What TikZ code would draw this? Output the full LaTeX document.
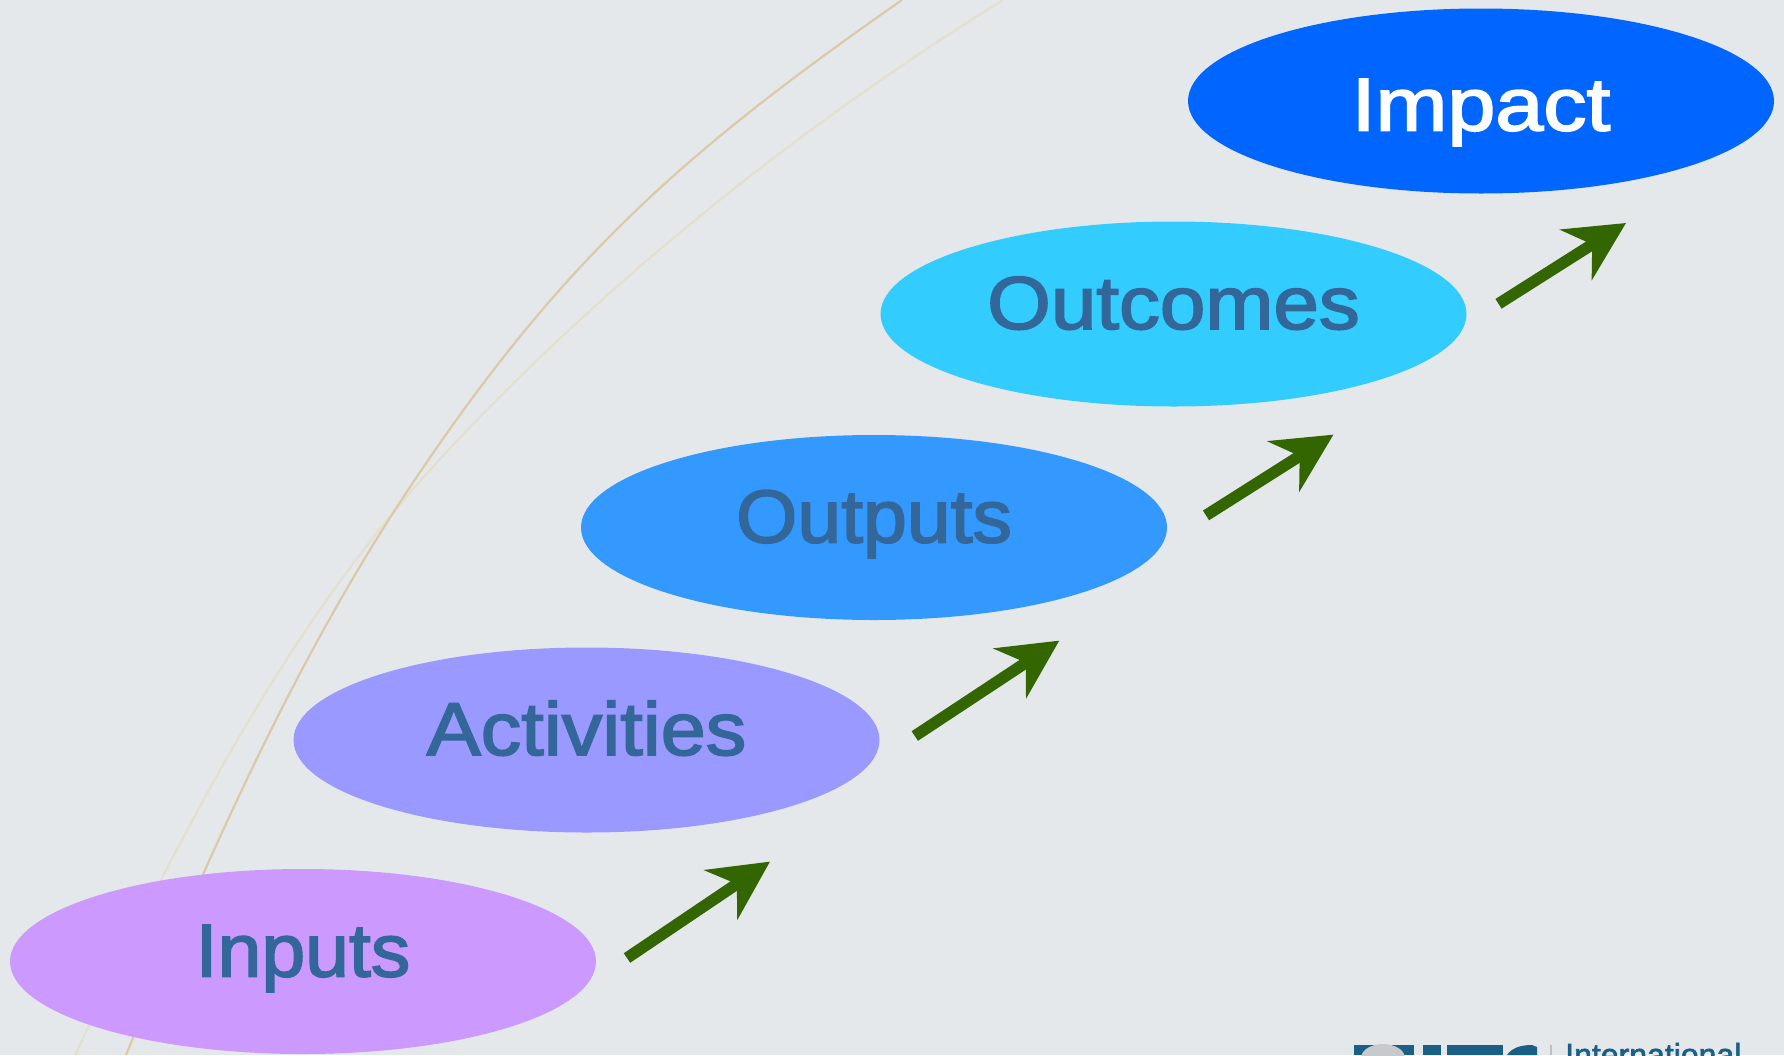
\documentclass[tikz,border=0pt]{standalone}
\usepackage{graphicx}
\usepackage{fontspec}
\setmainfont[FakeBold=2.2]{Liberation Sans}
\newfontfamily\logofont{Liberation Sans}[FakeBold=2]
\usetikzlibrary{arrows.meta,shapes.geometric}
\definecolor{bgcol}{HTML}{E5E8EB}
\definecolor{txtcol}{HTML}{336699}
\definecolor{arrcol}{HTML}{336600}
\definecolor{logocol}{HTML}{1B5F86}
\definecolor{swooshdark}{HTML}{DCC9A8}
\definecolor{swooshlight}{HTML}{E4E0CF}
\definecolor{inputcol}{HTML}{CC99FF}
\definecolor{activitycol}{HTML}{9999FF}
\definecolor{outputcol}{HTML}{3399FF}
\definecolor{outcomecol}{HTML}{33CCFF}
\definecolor{impactcol}{HTML}{0066FF}
\newcommand{\widen}[2]{\scalebox{#1}[1]{#2}}
\tikzset{
  stage/.style={ellipse,minimum width=586pt,minimum height=185pt,inner sep=0pt,text=txtcol,text height=54pt,text depth=24pt,font=\fontsize{75pt}{75pt}\selectfont},
  stagearrow/.style={arrcol,line width=11.5pt,-{Stealth[length=59pt,width=59pt,inset=19pt]}},
  swoosh/.style={line width=2.2pt}
}
\begin{document}
\begin{tikzpicture}[x=1pt,y=-1pt]
      \useasboundingbox (0,0) rectangle (1784,1055);
      \clip (0,0) rectangle (1784,1055);
      \fill[bgcol] (0,0) rectangle (1784,1055);

      \draw[swoosh,swooshlight] (1003,0) .. controls (799,126) and (591.5,292.4) .. (430,470) .. controls (279,636.5) and (172,852) .. (75,1055);
      \draw[swoosh,swooshdark] (902,0) .. controls (681,154) and (560,262) .. (410,487) .. controls (293.5,662) and (206,861) .. (126,1055);

      \node[stage,fill=inputcol] (inputs) at (303,961.5) {\widen{1.05}{Inputs}};
      \node[stage,fill=activitycol] (activities) at (586.5,740) {\widen{1.08}{Activities}};
      \node[stage,fill=outputcol] (outputs) at (874,527.5) {\widen{1.05}{Outputs}};
      \node[stage,fill=outcomecol] (outcomes) at (1173.5,314) {\widen{1.09}{Outcomes}};
      \node[stage,fill=impactcol,text=white,text height=60pt,text depth=1pt] (impact) at (1481,101) {\widen{1.15}{Impact}};

      \coordinate (a1) at (627,958);
      \coordinate (b1) at (770,861.6);
      \coordinate (a2) at (914.8,736);
      \coordinate (b2) at (1059.3,640.6);
      \coordinate (a3) at (1206,515.4);
      \coordinate (b3) at (1333.5,434.6);
      \coordinate (a4) at (1498.5,303.8);
      \coordinate (b4) at (1626,223);

      \draw[stagearrow] (a1) to (b1);
      \draw[stagearrow] (a2) to (b2);
      \draw[stagearrow] (a3) to (b3);
      \draw[stagearrow] (a4) to (b4);

      % logo at the foot, cut by the page
      \fill[logocol] (1354,1045) rectangle (1414,1055);
      \fill[bgcol!70!gray] (1383,1058) ellipse (22 and 14);
      \fill[logocol] (1423,1045) rectangle (1441,1055);
      \fill[logocol] (1447,1045) rectangle (1503,1055);
      \fill[logocol] (1507,1055) .. controls (1512,1048) and (1520,1045) .. (1532,1045) -- (1537,1047) -- (1537,1055) -- cycle;
      \fill[gray!50] (1550,1045) rectangle (1551.5,1055);
      \node[anchor=base west,inner sep=0pt,text=logocol,font=\fontsize{32pt}{32pt}\logofont] (logotext) at (1565,1066) {International};
\end{tikzpicture}
\end{document}
